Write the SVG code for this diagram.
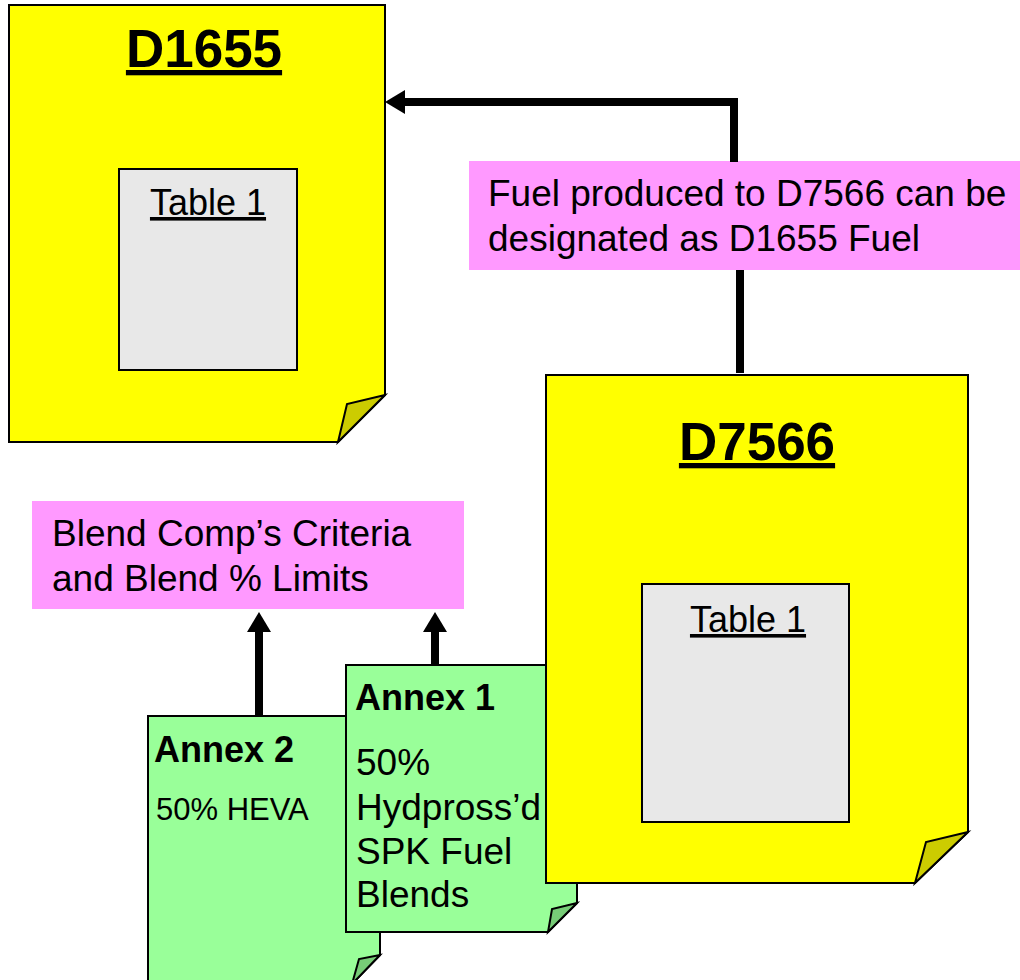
<svg xmlns="http://www.w3.org/2000/svg" width="1020" height="980" viewBox="0 0 1020 980">
<style>
text{font-family:"Liberation Sans",Arial,sans-serif;fill:#000}
.page{fill:#ffff00;stroke:#000;stroke-width:2;stroke-linejoin:miter}
.fold{fill:#cccc00;stroke:#000;stroke-width:2;stroke-linejoin:miter}
.gpage{fill:#99ff99;stroke:#000;stroke-width:2}
.gfold{fill:#77cc77;stroke:#000;stroke-width:2}
.tbl{fill:#e8e8e8;stroke:#000;stroke-width:2}
.pink{fill:#ff99ff}
.title{font-size:53px;font-weight:bold;text-decoration:underline;text-anchor:middle}
.tt{font-size:36px;text-decoration:underline;text-anchor:middle}
.lbl{font-size:37px}
.bold{font-size:36px;font-weight:bold}
.line{stroke:#000;stroke-width:8;fill:none}
</style>
<defs>
<marker id="ah" markerUnits="userSpaceOnUse" markerWidth="20" markerHeight="24" refX="0" refY="12" orient="auto">
<polygon points="0,0 20,12 0,24" fill="#000"/>
</marker>
</defs>
<g id="d1655">
<path class="page" d="M9,5 H385 V395 L338,442 H9 Z"/>
<path class="fold" d="M385,395 L347,404 L338,442 Z"/>
<text class="title" x="204" y="67">D1655</text>
<rect class="tbl" x="119" y="169" width="178" height="201"/>
<text class="tt" x="208" y="215">Table 1</text>
</g>
<g id="note1">
<rect class="pink" x="469" y="161" width="551" height="109"/>
<text class="lbl" x="488" y="206">Fuel produced to D7566 can be</text>
<text class="lbl" x="488" y="251">designated as D1655 Fuel</text>
</g>
<g id="note2">
<rect class="pink" x="32" y="501" width="432" height="108"/>
<text class="lbl" x="52" y="546">Blend Comp’s Criteria</text>
<text class="lbl" x="52" y="591">and Blend % Limits</text>
</g>
<g id="annex2">
<path class="gpage" d="M148,716 H380 V955 L352,984 H148 Z"/>
<path class="gfold" d="M380,955 L359,959 L352,984 Z"/>
<text class="bold" x="154" y="762">Annex 2</text>
<text x="156" y="820" style="font-size:31px">50% HEVA</text>
</g>
<g id="annex1">
<path class="gpage" d="M346,665 H577 V903 L548,932 H346 Z"/>
<path class="gfold" d="M577,903 L552,909 L548,932 Z"/>
<text class="bold" x="355" y="710">Annex 1</text>
<text class="lbl" x="356" y="775">50%</text>
<text class="lbl" x="356" y="820">Hydpross’d</text>
<text class="lbl" x="356" y="864">SPK Fuel</text>
<text class="lbl" x="356" y="907">Blends</text>
</g>
<g id="d7566">
<path class="page" d="M546,375 H968 V832 L915,883 H546 Z"/>
<path class="fold" d="M968,832 L926,842 L915,883 Z"/>
<text class="title" x="757" y="460">D7566</text>
<rect class="tbl" x="642" y="584" width="207" height="238"/>
<text class="tt" x="748" y="632">Table 1</text>
</g>
<g id="connectors">
<path class="line" d="M734,162 V102 H405" marker-end="url(#ah)"/>
<path class="line" d="M740,270 V373"/>
<path class="line" d="M259,715 V632" marker-end="url(#ah)"/>
<path class="line" d="M435,665 V632" marker-end="url(#ah)"/>
</g>
</svg>
